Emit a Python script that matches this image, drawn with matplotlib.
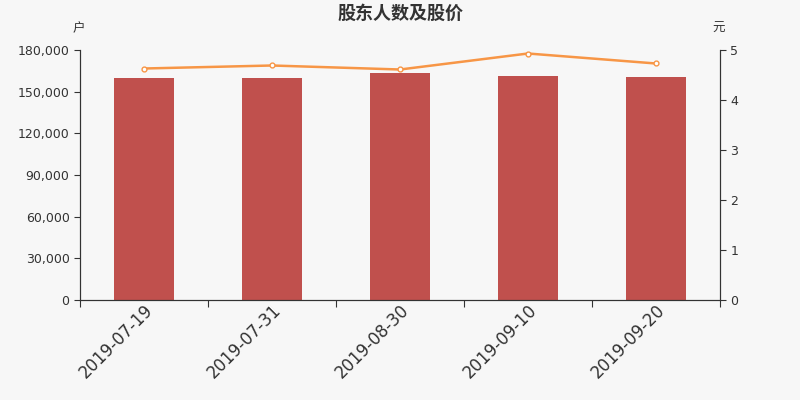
import matplotlib
matplotlib.use("Agg")
import matplotlib.pyplot as plt
import numpy as np

plt.rcParams['font.family'] = ['DejaVu Sans', 'Noto Sans CJK SC']

dates = ["2019-07-19", "2019-07-31", "2019-08-30", "2019-09-10", "2019-09-20"]
holders = [160000, 159800, 163200, 161200, 160800]
prices = [4.63, 4.69, 4.61, 4.93, 4.73]

bg = "#f7f7f7"
fig = plt.figure(figsize=(8, 4), dpi=100, facecolor=bg)
ax = fig.add_axes([0.1, 0.25, 0.8, 0.625], facecolor=bg)
ax2 = ax.twinx()

x = np.arange(len(dates))
ax.bar(x, holders, width=0.47, color="#c0504d", zorder=2)
ax2.plot(x, prices, color="#f79646", lw=1.8, marker="o", ms=3.5,
         mfc="white", mec="#f79646", mew=1, zorder=3)

ax.set_xlim(-0.5, len(dates) - 0.5)
ax.set_ylim(0, 180000)
ax2.set_ylim(0, 5)
ax.set_yticks(np.arange(0, 180001, 30000))
ax.set_yticklabels([f"{v:,}" for v in range(0, 180001, 30000)])
ax2.set_yticks(range(0, 6))

# ticks sit between categories, labels under the bars
ax.set_xticks(np.arange(-0.5, len(dates), 1.0))
ax.set_xticklabels([])
ax.set_xticks(x, minor=True)
ax.set_xticklabels(dates, minor=True, rotation=45, ha="right",
                   rotation_mode="anchor", fontsize=12, color="#333333")
ax.tick_params(axis="x", which="minor", length=0, pad=1)
ax.tick_params(axis="x", which="major", length=5, color="#333333")

for a in (ax, ax2):
    a.spines["top"].set_visible(False)
    for s in ("left", "right", "bottom"):
        a.spines[s].set_color("#333333")
    a.tick_params(axis="y", labelsize=9, colors="#333333", length=4)

fig.text(0.5, 0.967, "股东人数及股价", ha="center", va="center", fontsize=13,
         fontweight="bold", color="#333333", family=["Noto Sans CJK SC", "DejaVu Sans"])
fig.text(0.098, 0.928, "户", ha="center", va="center", fontsize=9,
         color="#333333", family=["Noto Sans CJK SC", "DejaVu Sans"])
fig.text(0.898, 0.928, "元", ha="center", va="center", fontsize=9,
         color="#333333", family=["Noto Sans CJK SC", "DejaVu Sans"])

fig.savefig("out.png", dpi=100, facecolor=bg)
